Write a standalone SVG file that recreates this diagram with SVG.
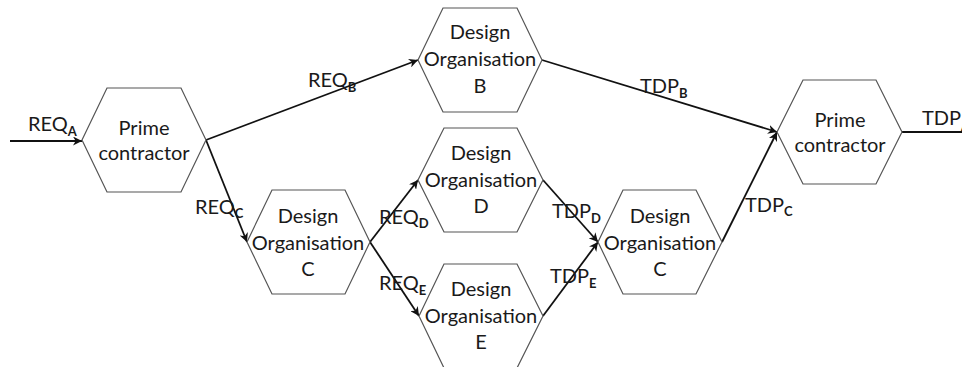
<svg xmlns="http://www.w3.org/2000/svg" width="962" height="367" viewBox="0 0 962 367">
  <style>
    .hex { fill: #ffffff; stroke: #555555; stroke-width: 1.2; }
    .node-text { font-family: Lato, "Liberation Sans", sans-serif; font-size: 20px; fill: #1a1a1a; text-anchor: middle; }
    .flow { fill: none; stroke: #111111; stroke-width: 1.8; }
    .label { font-family: Lato, "Liberation Sans", sans-serif; font-size: 20px; fill: #1a1a1a; }
    .sub { font-size: 13px; font-weight: bold; }
  </style>
  <defs>
    <marker id="arrow" viewBox="0 0 10 10" refX="10" refY="5" markerWidth="5" markerHeight="5" orient="auto" markerUnits="strokeWidth">
      <path d="M0,0 L10,5 L0,10 L3,5 z" fill="#111111"/>
    </marker>
  </defs>

  <!-- connectors -->
  <g id="connectors">
    <path class="flow" d="M10,141 L82,141" marker-end="url(#arrow)"/>
    <path class="flow" d="M206,140 L418,60" marker-end="url(#arrow)"/>
    <path class="flow" d="M206,140 L247,242" marker-end="url(#arrow)"/>
    <path class="flow" d="M370,242 L418,180" marker-end="url(#arrow)"/>
    <path class="flow" d="M370,242 L419,316" marker-end="url(#arrow)"/>
    <path class="flow" d="M542,60 L777,132" marker-end="url(#arrow)"/>
    <path class="flow" d="M543,180 L598,242" marker-end="url(#arrow)"/>
    <path class="flow" d="M543,316 L598,242" marker-end="url(#arrow)"/>
    <path class="flow" d="M722,242 L777,132" marker-end="url(#arrow)"/>
    <path class="flow" d="M902,132 L962,132"/>

    <text class="label" x="28" y="131">REQ<tspan class="sub" dy="5">A</tspan></text>
    <text class="label" x="308" y="87">REQ<tspan class="sub" dy="5">B</tspan></text>
    <text class="label" x="195" y="214">REQ<tspan class="sub" dy="4">C</tspan></text>
    <text class="label" x="379" y="224">REQ<tspan class="sub" dy="4">D</tspan></text>
    <text class="label" x="379" y="290">REQ<tspan class="sub" dy="5">E</tspan></text>
    <text class="label" x="640" y="93">TDP<tspan class="sub" dy="5">B</tspan></text>
    <text class="label" x="552" y="218">TDP<tspan class="sub" dy="5">D</tspan></text>
    <text class="label" x="550" y="283">TDP<tspan class="sub" dy="5">E</tspan></text>
    <text class="label" x="745" y="212">TDP<tspan class="sub" dy="4">C</tspan></text>
    <text class="label" x="922" y="125">TDP<tspan class="sub" dy="6">A</tspan></text>
  </g>

  <!-- nodes -->
  <g id="prime-in">
    <polygon class="hex" points="82,140 107,88 181,88 206,140 181,192 107,192"/>
    <text class="node-text" x="144" y="135">Prime</text>
    <text class="node-text" x="144" y="160">contractor</text>
  </g>

  <g id="design-b">
    <polygon class="hex" points="418,60 443,8 517,8 542,60 517,112 443,112"/>
    <text class="node-text" x="480" y="39">Design</text>
    <text class="node-text" x="480" y="66">Organisation</text>
    <text class="node-text" x="480" y="93">B</text>
  </g>

  <g id="design-c">
    <polygon class="hex" points="247,242 272,190 345,190 370,242 345,294 272,294"/>
    <text class="node-text" x="308" y="223">Design</text>
    <text class="node-text" x="308" y="250">Organisation</text>
    <text class="node-text" x="308" y="276">C</text>
  </g>

  <g id="design-d">
    <polygon class="hex" points="418,180 444,128 517,128 543,180 517,232 444,232"/>
    <text class="node-text" x="481" y="160">Design</text>
    <text class="node-text" x="481" y="187">Organisation</text>
    <text class="node-text" x="481" y="213">D</text>
  </g>

  <g id="design-e">
    <polygon class="hex" points="419,316 444,264 517,264 543,316 517,368 444,368"/>
    <text class="node-text" x="481" y="296">Design</text>
    <text class="node-text" x="481" y="323">Organisation</text>
    <text class="node-text" x="481" y="349">E</text>
  </g>

  <g id="design-c-merge">
    <polygon class="hex" points="598,242 623,190 696,190 722,242 696,294 623,294"/>
    <text class="node-text" x="660" y="223">Design</text>
    <text class="node-text" x="660" y="250">Organisation</text>
    <text class="node-text" x="660" y="276">C</text>
  </g>

  <g id="prime-out">
    <polygon class="hex" points="777,132 803,80 876,80 902,132 876,184 803,184"/>
    <text class="node-text" x="840" y="127">Prime</text>
    <text class="node-text" x="840" y="152">contractor</text>
  </g>
</svg>
